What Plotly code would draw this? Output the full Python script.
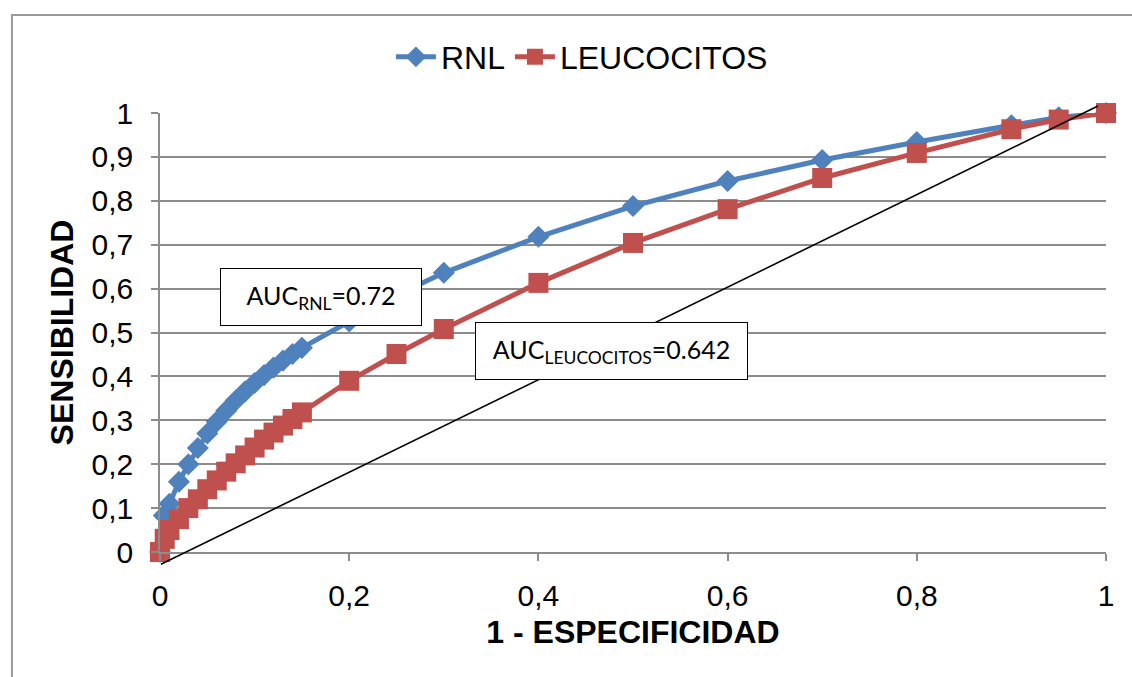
import plotly.graph_objects as go

# ---- data ----
RNL_X = [0, 0.004, 0.01, 0.02, 0.03, 0.04, 0.05, 0.06, 0.07, 0.08, 0.09, 0.10,
         0.11, 0.12, 0.13, 0.14, 0.15, 0.2, 0.25, 0.3, 0.4, 0.5, 0.6, 0.7, 0.8,
         0.9, 0.95, 1.0]
RNL_Y = [0, 0.083, 0.11, 0.16, 0.20, 0.237, 0.27, 0.297, 0.322, 0.345, 0.366,
         0.385, 0.403, 0.42, 0.436, 0.451, 0.465, 0.525, 0.585, 0.636, 0.718,
         0.788, 0.845, 0.893, 0.934, 0.972, 0.99, 1.0]

LEU_X = [0, 0.005, 0.01, 0.02, 0.03, 0.04, 0.05, 0.06, 0.07, 0.08, 0.09, 0.10,
         0.11, 0.12, 0.13, 0.14, 0.15, 0.2, 0.25, 0.3, 0.4, 0.5, 0.6, 0.7, 0.8,
         0.9, 0.95, 1.0]
LEU_Y = [0, 0.03, 0.05, 0.075, 0.10, 0.12, 0.143, 0.163, 0.183, 0.202, 0.22,
         0.238, 0.256, 0.272, 0.288, 0.303, 0.318, 0.39, 0.451, 0.508, 0.613,
         0.704, 0.781, 0.852, 0.909, 0.963, 0.985, 1.0]

# reference (chance) line drawn over the chart, as in the original
DIAG_X = [0.001, 0.9915]
DIAG_Y = [-0.028, 1.016]

X_TICK_VALS = [0, 0.2, 0.4, 0.6, 0.8, 1.0]
X_TICK_TEXT = ["0", "0,2", "0,4", "0,6", "0,8", "1"]
Y_TICK_VALS = [0, 0.1, 0.2, 0.3, 0.4, 0.5, 0.6, 0.7, 0.8, 0.9, 1.0]
Y_TICK_TEXT = ["0", "0,1", "0,2", "0,3", "0,4", "0,5", "0,6", "0,7", "0,8", "0,9", "1"]

SERIES_NAMES = ["RNL", "LEUCOCITOS"]
AUC_TEXT = ["AUC<sub>RNL</sub>=0.72", "AUC<sub>LEUCOCITOS</sub>=0.642"]

BLUE = "#4F81BD"
RED = "#C0504D"
GRID = "#8C8C8C"

fig = go.Figure()
fig.add_trace(go.Scatter(
    x=RNL_X, y=RNL_Y, name=SERIES_NAMES[0], mode="lines+markers",
    line=dict(color=BLUE, width=5),
    marker=dict(symbol="diamond", size=17, color=BLUE),
    cliponaxis=False,
))
fig.add_trace(go.Scatter(
    x=LEU_X, y=LEU_Y, name=SERIES_NAMES[1], mode="lines+markers",
    line=dict(color=RED, width=5),
    marker=dict(symbol="square", size=20, color=RED),
    cliponaxis=False,
))

# diagonal reference line (domain refs -> not clipped, same as data since range is [0,1])
fig.add_shape(type="line", xref="x domain", yref="y domain",
              x0=DIAG_X[0], y0=DIAG_Y[0], x1=DIAG_X[1], y1=DIAG_Y[1],
              line=dict(color="black", width=1.6), layer="above")

# outer chart border
fig.add_shape(type="rect", xref="paper", yref="paper",
              x0=-0.1565, y0=1.2232, x1=1.1, y1=-0.5,
              line=dict(color="#9A9A9A", width=2), layer="below")

# AUC boxes
box_font = dict(family="Lato, Carlito, Calibri, sans-serif", size=25, color="black")
fig.add_annotation(x=0.17, y=0.581, xref="x", yref="y", text=AUC_TEXT[0],
                   showarrow=False, font=box_font, bgcolor="white",
                   bordercolor="black", borderwidth=1, borderpad=0,
                   width=200, height=56, align="center", valign="middle")
fig.add_annotation(x=0.4775, y=0.458, xref="x", yref="y", text=AUC_TEXT[1],
                   showarrow=False, font=box_font, bgcolor="white",
                   bordercolor="black", borderwidth=1, borderpad=0,
                   width=271, height=56, align="center", valign="middle")

axis_font = dict(family="Arial, Liberation Sans, sans-serif", size=30, color="black")
title_font = dict(family="Arial, Liberation Sans, sans-serif", size=32, color="black", weight="bold")

fig.update_xaxes(
    range=[0, 1], tickvals=X_TICK_VALS, ticktext=X_TICK_TEXT,
    showgrid=False, zeroline=False, showline=True, linecolor=GRID, linewidth=1.5,
    ticks="outside", ticklen=7, tickcolor=GRID, tickwidth=1.5,
    tickfont=axis_font, ticklabelstandoff=9,
    title=dict(text="1 - ESPECIFICIDAD", font=title_font, standoff=10),
)
fig.update_yaxes(
    range=[0, 1], tickvals=Y_TICK_VALS, ticktext=Y_TICK_TEXT,
    showgrid=True, gridcolor=GRID, gridwidth=1.5, zeroline=False,
    showline=True, linecolor=GRID, linewidth=1.5,
    ticks="outside", ticklen=7, tickcolor=GRID, tickwidth=1.5,
    tickfont=axis_font, ticklabelstandoff=12,
    title=dict(text="SENSIBILIDAD", font=title_font, standoff=8),
)

fig.update_layout(
    width=1132, height=677, autosize=False,
    margin=dict(l=160, r=26, t=113, b=125, pad=0),
    paper_bgcolor="white", plot_bgcolor="white",
    showlegend=True,
    legend=dict(orientation="h", x=0.446, y=1.1276, xanchor="center", yanchor="middle",
                font=dict(family="Arial, Liberation Sans, sans-serif", size=32, color="black"),
                bgcolor="rgba(0,0,0,0)", itemwidth=40, tracegroupgap=0),
    font=dict(family="Arial, Liberation Sans, sans-serif", color="black"),
)

fig.write_html("out.html")
